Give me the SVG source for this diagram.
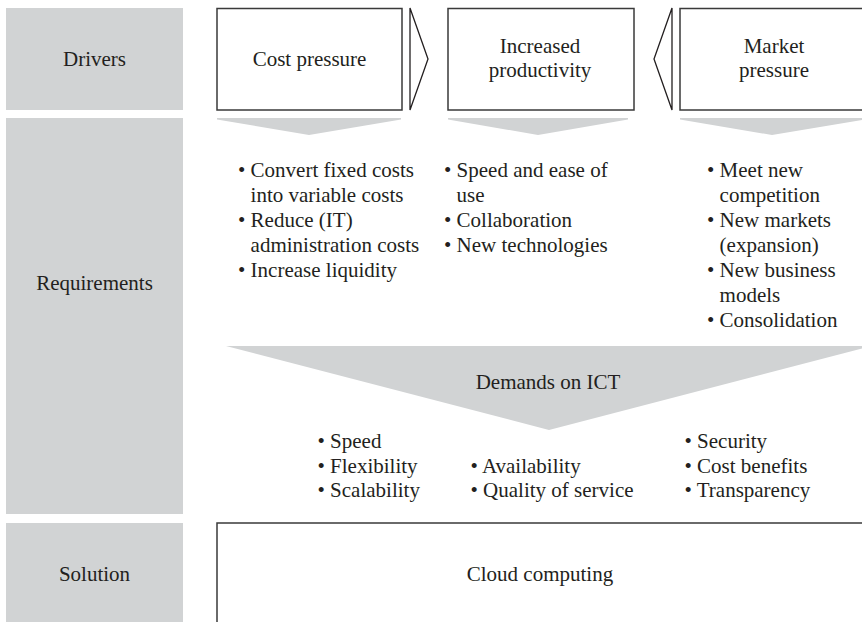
<svg xmlns="http://www.w3.org/2000/svg" width="862" height="622" viewBox="0 0 862 622">
<style>
text{font-family:"Liberation Serif","Times New Roman",serif;font-size:21px;fill:#231f20}
.c{text-anchor:middle}
.panel{fill:#d1d3d4}
.box{fill:#fff;stroke:#3a3a3a;stroke-width:1.5}
.chev{fill:#d1d3d4}
.tri{fill:#fff;stroke:#231f20;stroke-width:1.3;stroke-linejoin:miter}
</style>
<rect width="862" height="622" fill="#fff"/>
<g id="row-labels">
<g id="drivers-label"><rect class="panel" x="6" y="8" width="177" height="102"/><text class="c" x="94.5" y="66">Drivers</text></g>
<g id="requirements-label"><rect class="panel" x="6" y="118" width="177" height="396"/><text class="c" x="94.5" y="290">Requirements</text></g>
<g id="solution-label"><rect class="panel" x="6" y="523" width="177" height="105"/><text class="c" x="94.5" y="581">Solution</text></g>
</g>
<g id="connectors">
<polygon class="tri" points="410,8 428,59 410,110"/>
<polygon class="tri" points="672,8 654,59 672,110"/>
<polygon class="chev" points="217,118 401,118 401,119.5 309,135 217,119.5"/>
<polygon class="chev" points="448,118 628,118 628,119.5 538,135 448,119.5"/>
<polygon class="chev" points="680,118 865,118 865,119.5 772,135 680,119.5"/>
<polygon class="chev" points="226,346 872,346 549,430"/>
</g>
<g id="cost-pressure"><rect class="box" x="217" y="8.5" width="185" height="101.5"/><text class="c" x="309.5" y="66">Cost pressure</text></g>
<g id="increased-productivity"><rect class="box" x="448" y="8.5" width="186" height="101.5"/><text class="c" x="540" y="53">Increased</text><text class="c" x="540" y="77">productivity</text></g>
<g id="market-pressure"><rect class="box" x="680" y="8.5" width="190" height="101.5"/><text class="c" x="774" y="53">Market</text><text class="c" x="774" y="77">pressure</text></g>
<g id="req-cost">
<text x="238" y="177">• Convert fixed costs</text>
<text x="250.6" y="202">into variable costs</text>
<text x="238" y="227">• Reduce (IT)</text>
<text x="250.6" y="252">administration costs</text>
<text x="238" y="277">• Increase liquidity</text>
</g>
<g id="req-productivity">
<text x="444" y="177">• Speed and ease of</text>
<text x="456.6" y="202">use</text>
<text x="444" y="227">• Collaboration</text>
<text x="444" y="252">• New technologies</text>
</g>
<g id="req-market">
<text x="707" y="177">• Meet new</text>
<text x="719.6" y="202">competition</text>
<text x="707" y="227">• New markets</text>
<text x="719.6" y="252">(expansion)</text>
<text x="707" y="277">• New business</text>
<text x="719.6" y="302">models</text>
<text x="707" y="327">• Consolidation</text>
</g>
<g id="demands-on-ict"><text class="c" x="548" y="389">Demands on ICT</text></g>
<g id="ict-list-1">
<text x="317.5" y="448">• Speed</text>
<text x="317.5" y="472.5">• Flexibility</text>
<text x="317.5" y="497">• Scalability</text>
</g>
<g id="ict-list-2">
<text x="470.5" y="472.5">• Availability</text>
<text x="470.5" y="497">• Quality of service</text>
</g>
<g id="ict-list-3">
<text x="684.5" y="448">• Security</text>
<text x="684.5" y="472.5">• Cost benefits</text>
<text x="684.5" y="497">• Transparency</text>
</g>
<g id="cloud-computing"><rect class="box" x="217" y="523" width="655" height="110"/><text class="c" x="540" y="581">Cloud computing</text></g>
</svg>
